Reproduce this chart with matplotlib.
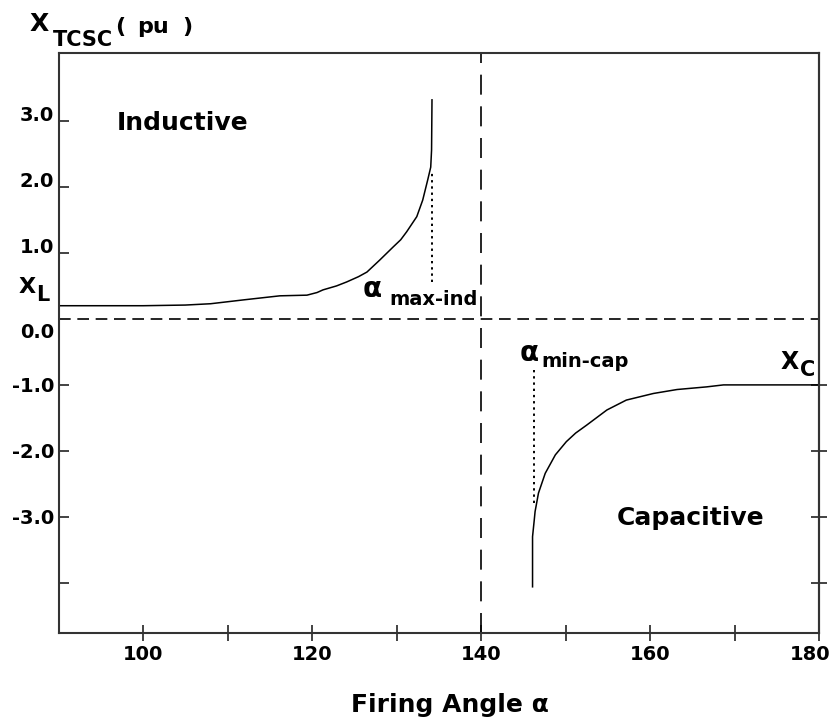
import matplotlib
matplotlib.use("Agg")
import matplotlib.pyplot as plt
from matplotlib.transforms import ScaledTranslation

# TCSC reactance versus thyristor firing angle
alpha_ind = [90, 100, 105, 108, 112, 116.2, 119.4, 120.6, 121.3, 122.9, 124.1,
             125.5, 126.5, 128.0, 129.6, 130.5, 131.2, 132.4, 133.1, 133.7,
             134.05, 134.15, 134.2]
x_ind = [0.20, 0.20, 0.21, 0.23, 0.29, 0.35, 0.36, 0.40, 0.44, 0.50, 0.56,
         0.64, 0.71, 0.89, 1.09, 1.20, 1.32, 1.55, 1.80, 2.11,
         2.30, 2.56, 3.32]

alpha_cap = [146.1, 146.1, 146.3, 146.4, 146.8, 147.6, 148.8, 150.1, 151.2,
             152.5, 154.9, 157.2, 160.4, 163.2, 166.7, 168.7, 180]
x_cap = [-4.06, -3.30, -3.05, -2.92, -2.64, -2.34, -2.06, -1.86, -1.73,
         -1.61, -1.38, -1.23, -1.13, -1.07, -1.03, -1.00, -1.00]

alpha_res = 140.0                       # resonance angle
alpha_max_ind, max_ind_span = 134.2, (0.56, 2.23)
alpha_min_cap, min_cap_span = 146.3, (-2.79, -0.77)

xticks_major = [100, 120, 140, 160, 180]
xticks_minor = [110, 130, 150, 170]
yticks = [3, 2, 1, -1, -2, -3, -4]
ytick_labels = ["3.0", "2.0", "1.0", "-1.0", "-2.0", "-3.0", ""]
right_ticks = [-1, -2, -3, -4]

FONT = "DejaVu Sans"
W, H = 835, 721

fig = plt.figure(figsize=(W / 100, H / 100), dpi=100)
ax = fig.add_axes([58.5 / W, (H - 633) / H, (819 - 58.5) / W, (633 - 53) / H])
ax.set_xlim(90, 180)
ax.set_ylim(-4.76, 4.03)

for s in ax.spines.values():
    s.set_color("#333333")
    s.set_linewidth(1.5)

# curves
ax.plot(alpha_ind, x_ind, color="black", lw=1.1)
ax.plot(alpha_cap, x_cap, color="black", lw=1.1)

# reference lines
ax.axhline(0, color="black", lw=1.2, ls=(0, (7, 4)))
ax.axvline(alpha_res, color="black", lw=1.2, ls=(0, (12, 7)))
ax.plot([alpha_max_ind, alpha_max_ind], max_ind_span, color="black", lw=1.4,
        ls=(0, (1.2, 2.0)))
ax.plot([alpha_min_cap, alpha_min_cap], min_cap_span, color="black", lw=1.4,
        ls=(0, (1.2, 2.0)))

# ticks
ax.set_xticks(xticks_major)
ax.set_xticks(xticks_minor, minor=True)
ax.tick_params(axis="x", which="both", direction="inout", length=12, width=1.2,
               color="#222222", pad=3, labelsize=14)
ax.set_yticks(yticks, labels=ytick_labels)
ax.tick_params(axis="y", direction="in", length=7, width=1.2, color="#222222",
               pad=3, labelsize=14)
for lbl in ax.get_xticklabels() + ax.get_yticklabels():
    lbl.set_fontfamily(FONT)
    lbl.set_fontweight("bold")
for lbl, v in zip(ax.get_yticklabels(), yticks):
    if v > 0:
        lbl.set_verticalalignment("baseline")
ax.get_xticklabels()[-1].set_transform(
    ax.get_xticklabels()[-1].get_transform()
    + ScaledTranslation(-9 / 100, 0, fig.dpi_scale_trans))

sec = ax.secondary_yaxis("right")
sec.set_yticks(right_ticks)
sec.tick_params(direction="inout", length=12, width=1.2, color="#222222",
                labelright=False)
sec.spines["right"].set_color("#333333")
sec.spines["right"].set_linewidth(1.5)

tkw = dict(fontfamily=FONT, fontweight="bold", color="black")

ax.text(89.5, -0.2, "0.0", ha="right", va="center", fontsize=14, **tkw)

# region labels
ax.text(96.9, 2.97, "Inductive", ha="left", va="center", fontsize=18, **tkw)
ax.text(156.1, -3.02, "Capacitive", ha="left", va="center", fontsize=18, **tkw)

# X_L and X_C
ax.text(85.3, 0.48, "X", ha="left", va="center", fontsize=16, **tkw)
ax.text(87.4, 0.36, "L", ha="left", va="center", fontsize=15, **tkw)
ax.text(175.4, -0.65, "X", ha="left", va="center", fontsize=17, **tkw)
ax.text(177.7, -0.78, "C", ha="left", va="center", fontsize=15, **tkw)

# firing angle limits
ax.text(126.0, 0.45, "α", ha="left", va="center", fontsize=20, **tkw)
ax.text(129.2, 0.29, "max-ind", ha="left", va="center", fontsize=14, **tkw)
ax.text(144.6, -0.51, "α", ha="left", va="center", fontsize=20, **tkw)
ax.text(147.2, -0.64, "min-cap", ha="left", va="center", fontsize=14, **tkw)

# axis titles
fig.text(30 / W, 1 - 24 / H, "X", ha="left", va="center", fontsize=18, **tkw)
fig.text(53 / W, 1 - 40 / H, "TCSC", ha="left", va="center", fontsize=15, **tkw)
fig.text(115 / W, 1 - 27 / H, "(", ha="left", va="center", fontsize=16, **tkw)
fig.text(137 / W, 1 - 27 / H, "pu", ha="left", va="center", fontsize=16, **tkw)
fig.text(182 / W, 1 - 27 / H, ")", ha="left", va="center", fontsize=16, **tkw)
fig.text(450 / W, 1 - 705 / H, "Firing Angle α", ha="center", va="center",
         fontsize=18, **tkw)

fig.savefig("out.png", dpi=100, facecolor="white")
